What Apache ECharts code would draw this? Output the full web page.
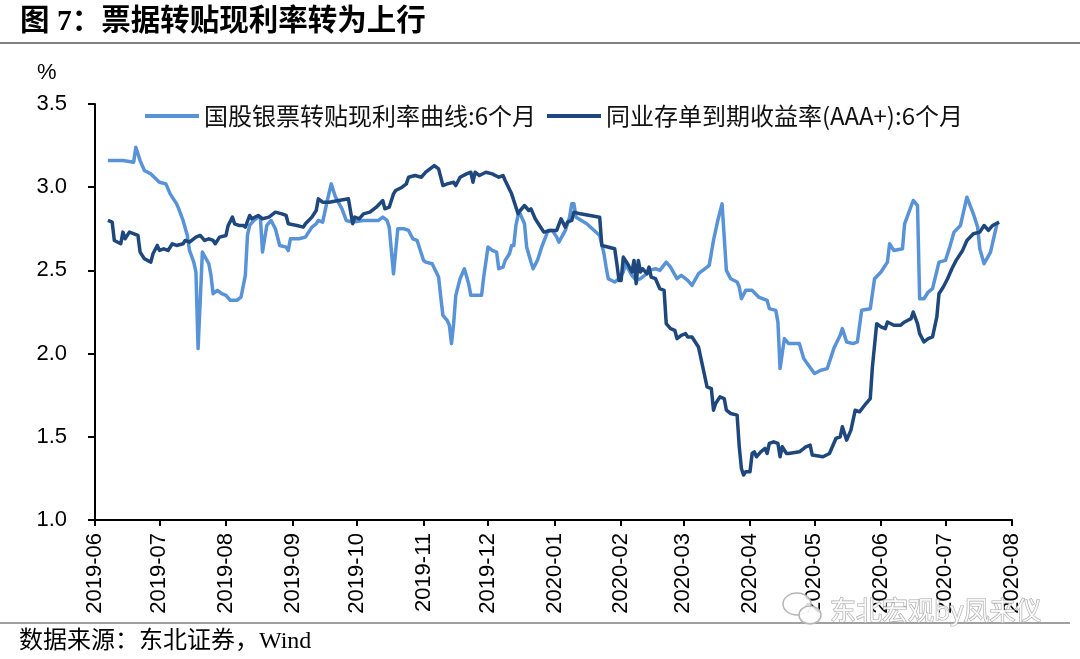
<!DOCTYPE html>
<html>
<head>
<meta charset="utf-8">
<script src="https://cdn.jsdelivr.net/npm/echarts@6/dist/echarts.min.js"></script>
<style>html,body{margin:0;padding:0;background:#fff}#c{width:1080px;height:659px}</style>
</head>
<body>
<div id="c"></div>
<script>
// ---- text ----
const titleText = '图 7：票据转贴现利率转为上行';
const sourceText = '数据来源：东北证券，Wind';
const watermarkText = '东北宏观by凤来仪';
const unitText = '%';
const seriesNames = ['国股银票转贴现利率曲线:6个月', '同业存单到期收益率(AAA+):6个月'];

// ---- axes ----
const xMin = '2019-06-01';
const xMax = '2020-08-01';
const yMin = 1.0;
const yMax = 3.5;
const yStep = 0.5;

// ---- series 1: 国股银票转贴现利率曲线:6个月 ----
const billDates = [
'2019-06-07','2019-06-14','2019-06-19','2019-06-20','2019-06-22','2019-06-24','2019-06-27','2019-07-01','2019-07-04','2019-07-06',
'2019-07-09','2019-07-10','2019-07-12','2019-07-14','2019-07-15','2019-07-17','2019-07-18','2019-07-19','2019-07-21','2019-07-24',
'2019-07-25','2019-07-26','2019-07-28','2019-07-30','2019-08-01','2019-08-03','2019-08-06','2019-08-08','2019-08-10','2019-08-11',
'2019-08-12','2019-08-14','2019-08-16','2019-08-17','2019-08-18','2019-08-20','2019-08-22','2019-08-24','2019-08-26','2019-08-29',
'2019-08-30','2019-08-31','2019-09-04','2019-09-07','2019-09-08','2019-09-10','2019-09-12','2019-09-13','2019-09-15','2019-09-17',
'2019-09-19','2019-09-21','2019-09-24','2019-09-26','2019-09-29','2019-10-04','2019-10-11','2019-10-13','2019-10-15','2019-10-16',
'2019-10-18','2019-10-20','2019-10-23','2019-10-25','2019-10-27','2019-10-29','2019-11-01','2019-11-02','2019-11-05','2019-11-08',
'2019-11-09','2019-11-10','2019-11-12','2019-11-13','2019-11-14','2019-11-15','2019-11-16','2019-11-18','2019-11-20','2019-11-22',
'2019-11-23','2019-11-28','2019-11-29','2019-12-01','2019-12-03','2019-12-05','2019-12-06','2019-12-08','2019-12-09','2019-12-11',
'2019-12-12','2019-12-13','2019-12-14','2019-12-15','2019-12-16','2019-12-18','2019-12-19','2019-12-21','2019-12-22','2019-12-24',
'2019-12-26','2019-12-29','2019-12-31','2020-01-02','2020-01-03','2020-01-06','2020-01-08','2020-01-09','2020-01-10','2020-01-11',
'2020-01-16','2020-01-22','2020-01-24','2020-01-25','2020-01-26','2020-01-29','2020-01-31','2020-02-02','2020-02-03','2020-02-06',
'2020-02-08','2020-02-10','2020-02-13','2020-02-14','2020-02-17','2020-02-19','2020-02-22','2020-02-24','2020-02-27','2020-02-29',
'2020-03-03','2020-03-05','2020-03-08','2020-03-10','2020-03-12','2020-03-13','2020-03-15','2020-03-17','2020-03-19','2020-03-20',
'2020-03-21','2020-03-23','2020-03-26','2020-03-27','2020-03-28','2020-03-30','2020-04-02','2020-04-05','2020-04-09','2020-04-10',
'2020-04-13','2020-04-14','2020-04-15','2020-04-17','2020-04-19','2020-04-24','2020-04-26','2020-05-01','2020-05-04','2020-05-07',
'2020-05-10','2020-05-13','2020-05-14','2020-05-16','2020-05-19','2020-05-21','2020-05-23','2020-05-27','2020-05-29','2020-06-01',
'2020-06-04','2020-06-05','2020-06-07','2020-06-11','2020-06-12','2020-06-16','2020-06-18','2020-06-19','2020-06-21','2020-06-23',
'2020-06-25','2020-06-28','2020-07-01','2020-07-03','2020-07-05','2020-07-08','2020-07-11','2020-07-14','2020-07-16','2020-07-17',
'2020-07-19','2020-07-22','2020-07-25'
];
const billRates = [
3.16,3.16,3.15,3.24,3.16,3.10,3.08,3.03,3.02,2.96,
2.90,2.87,2.80,2.71,2.62,2.55,2.49,2.03,2.61,2.54,
2.47,2.36,2.38,2.36,2.35,2.32,2.32,2.34,2.47,2.71,
2.77,2.80,2.82,2.82,2.61,2.77,2.80,2.75,2.65,2.64,
2.62,2.69,2.69,2.70,2.72,2.76,2.78,2.80,2.79,2.91,
3.02,2.94,2.87,2.80,2.79,2.80,2.80,2.82,2.80,2.76,
2.48,2.75,2.75,2.74,2.69,2.68,2.56,2.55,2.54,2.46,
2.34,2.23,2.20,2.17,2.06,2.18,2.35,2.45,2.51,2.42,
2.35,2.35,2.46,2.64,2.62,2.61,2.51,2.52,2.56,2.60,
2.65,2.65,2.77,2.83,2.84,2.78,2.64,2.55,2.51,2.56,
2.64,2.74,2.74,2.70,2.67,2.74,2.82,2.90,2.90,2.82,
2.78,2.71,2.60,2.52,2.45,2.43,2.45,2.49,2.54,2.47,
2.44,2.45,2.48,2.50,2.51,2.50,2.55,2.52,2.45,2.47,
2.44,2.41,2.48,2.50,2.52,2.53,2.68,2.80,2.90,2.70,
2.50,2.45,2.43,2.40,2.33,2.38,2.38,2.34,2.32,2.27,
2.26,2.19,1.91,2.09,2.06,2.06,1.97,1.88,1.90,1.91,
2.03,2.11,2.15,2.07,2.06,2.07,2.26,2.27,2.45,2.49,
2.55,2.66,2.62,2.63,2.78,2.92,2.89,2.33,2.33,2.37,
2.39,2.55,2.56,2.64,2.73,2.77,2.94,2.84,2.76,2.63,
2.54,2.61,2.78
];

// ---- series 2: 同业存单到期收益率(AAA+):6个月 ----
const ncdDates = [
'2019-06-07','2019-06-09','2019-06-10','2019-06-13','2019-06-14','2019-06-15','2019-06-17','2019-06-21','2019-06-22','2019-06-24',
'2019-06-27','2019-06-28','2019-06-30','2019-07-01','2019-07-03','2019-07-05','2019-07-07','2019-07-09','2019-07-12','2019-07-13',
'2019-07-15','2019-07-18','2019-07-20','2019-07-22','2019-07-24','2019-07-26','2019-07-27','2019-07-29','2019-08-01','2019-08-02',
'2019-08-04','2019-08-05','2019-08-07','2019-08-09','2019-08-10','2019-08-12','2019-08-13','2019-08-16','2019-08-18','2019-08-21',
'2019-08-24','2019-08-27','2019-08-29','2019-08-30','2019-09-03','2019-09-06','2019-09-07','2019-09-10','2019-09-12','2019-09-13',
'2019-09-15','2019-09-18','2019-09-27','2019-09-29','2019-09-30','2019-10-02','2019-10-04','2019-10-07','2019-10-10','2019-10-13',
'2019-10-14','2019-10-16','2019-10-18','2019-10-19','2019-10-22','2019-10-24','2019-10-25','2019-10-28','2019-10-31','2019-11-02',
'2019-11-06','2019-11-08','2019-11-10','2019-11-12','2019-11-15','2019-11-16','2019-11-18','2019-11-21','2019-11-23','2019-11-24',
'2019-11-25','2019-11-27','2019-11-30','2019-12-03','2019-12-06','2019-12-08','2019-12-09','2019-12-12','2019-12-15','2019-12-16',
'2019-12-18','2019-12-20','2019-12-21','2019-12-23','2019-12-25','2019-12-27','2019-12-30','2020-01-02','2020-01-04','2020-01-06',
'2020-01-07','2020-01-09','2020-01-10','2020-01-13','2020-01-22','2020-01-23','2020-01-29','2020-01-30','2020-01-31','2020-02-01',
'2020-02-02','2020-02-04','2020-02-06','2020-02-07','2020-02-08','2020-02-09','2020-02-10','2020-02-11','2020-02-13','2020-02-14',
'2020-02-15','2020-02-17','2020-02-19','2020-02-21','2020-02-22','2020-02-24','2020-02-26','2020-02-27','2020-02-29','2020-03-02',
'2020-03-03','2020-03-05','2020-03-08','2020-03-10','2020-03-12','2020-03-14','2020-03-15','2020-03-16','2020-03-18','2020-03-20',
'2020-03-21','2020-03-23','2020-03-26','2020-03-27','2020-03-28','2020-03-29','2020-03-30','2020-04-01','2020-04-02','2020-04-03',
'2020-04-04','2020-04-06','2020-04-08','2020-04-09','2020-04-10','2020-04-12','2020-04-14','2020-04-15','2020-04-16','2020-04-18',
'2020-04-19','2020-04-24','2020-04-27','2020-04-29','2020-04-30','2020-05-05','2020-05-08','2020-05-11','2020-05-13','2020-05-14',
'2020-05-16','2020-05-18','2020-05-20','2020-05-22','2020-05-25','2020-05-27','2020-05-28','2020-05-30','2020-06-01','2020-06-03',
'2020-06-04','2020-06-07','2020-06-10','2020-06-12','2020-06-15','2020-06-16','2020-06-18','2020-06-19','2020-06-21','2020-06-23',
'2020-06-25','2020-06-26','2020-06-27','2020-06-28','2020-06-30','2020-07-02','2020-07-04','2020-07-06','2020-07-09','2020-07-11',
'2020-07-14','2020-07-17','2020-07-19','2020-07-21','2020-07-23','2020-07-26'
];
const ncdRates = [
2.80,2.79,2.68,2.66,2.73,2.69,2.73,2.71,2.61,2.57,
2.55,2.60,2.65,2.62,2.63,2.62,2.66,2.65,2.66,2.68,
2.67,2.70,2.71,2.68,2.69,2.68,2.66,2.70,2.71,2.77,
2.82,2.78,2.77,2.77,2.76,2.83,2.81,2.83,2.81,2.82,
2.85,2.84,2.83,2.78,2.77,2.76,2.78,2.82,2.86,2.93,
2.91,2.91,2.93,2.78,2.82,2.81,2.84,2.85,2.88,2.92,
2.87,2.88,2.96,2.98,3.00,3.02,3.06,3.07,3.06,3.09,
3.13,3.11,3.01,3.02,3.03,3.01,3.06,3.08,3.09,3.03,
3.09,3.07,3.09,3.08,3.06,3.07,3.04,2.96,2.84,2.86,
2.89,2.86,2.87,2.81,2.77,2.73,2.74,2.74,2.81,2.76,
2.79,2.80,2.85,2.84,2.82,2.65,2.63,2.54,2.44,2.44,
2.58,2.54,2.49,2.56,2.42,2.56,2.49,2.51,2.48,2.52,
2.46,2.45,2.39,2.38,2.18,2.15,2.14,2.09,2.11,2.12,
2.10,2.10,2.04,1.92,1.80,1.79,1.66,1.70,1.74,1.73,
1.66,1.64,1.63,1.44,1.31,1.27,1.29,1.29,1.40,1.41,
1.38,1.41,1.43,1.40,1.46,1.47,1.46,1.38,1.44,1.40,
1.40,1.41,1.44,1.45,1.39,1.38,1.40,1.49,1.50,1.56,
1.48,1.54,1.66,1.65,1.70,1.73,1.92,2.18,2.16,2.15,
2.19,2.17,2.17,2.19,2.21,2.25,2.18,2.12,2.07,2.09,
2.10,2.16,2.22,2.36,2.40,2.45,2.51,2.56,2.62,2.68,
2.72,2.73,2.77,2.74,2.77,2.79
];

const lightBlue = '#5893D8';
const darkBlue = '#1E487D';
const axisFont = '"Liberation Sans", Arial, sans-serif';
const cjkFont = '"Noto Sans CJK SC", sans-serif';
const serifMix = '"Liberation Serif", "Noto Sans CJK SC", serif';

function zip(a, b) { return a.map((d, i) => [d, b[i]]); }
function ts(s) { const p = s.split('-').map(Number); return new Date(p[0], p[1] - 1, p[2]).getTime(); }

const chart = echarts.init(document.getElementById('c'), null, { renderer: 'canvas' });

chart.setOption({
  animation: false,
  backgroundColor: '#ffffff',
  grid: { left: 95, right: 68, top: 104, bottom: 139, containLabel: false },
  legend: {
    left: 145, top: 104, padding: 0, itemGap: 11,
    itemWidth: 54, itemHeight: 4, icon: 'rect',
    textStyle: { fontFamily: cjkFont, fontSize: 24, color: '#111', lineHeight: 24 },
    data: seriesNames
  },
  xAxis: {
    type: 'time',
    min: ts(xMin), max: ts(xMax),
    splitNumber: 14,
    axisLine: { lineStyle: { color: '#000', width: 2 } },
    axisTick: { show: true, length: 6, lineStyle: { color: '#000', width: 2 } },
    splitLine: { show: false },
    axisLabel: {
      formatter: '{yyyy}-{MM}', rotate: 90, margin: 13,
      fontFamily: axisFont, fontSize: 22, color: '#000',
      hideOverlap: false, showMinLabel: true, showMaxLabel: true
    }
  },
  yAxis: {
    type: 'value', min: yMin, max: yMax, interval: yStep,
    axisLine: { show: true, lineStyle: { color: '#000', width: 2 } },
    axisTick: { show: true, length: 7, lineStyle: { color: '#000', width: 2 } },
    splitLine: { show: false },
    axisLabel: {
      formatter: v => v.toFixed(1), margin: 28,
      fontFamily: axisFont, fontSize: 22, color: '#000'
    }
  },
  series: [
    {
      name: seriesNames[0], type: 'line', showSymbol: false, symbol: 'none',
      data: zip(billDates, billRates),
      lineStyle: { color: lightBlue, width: 3.5, join: 'round' },
      itemStyle: { color: lightBlue }, z: 2
    },
    {
      name: seriesNames[1], type: 'line', showSymbol: false, symbol: 'none',
      data: zip(ncdDates, ncdRates),
      lineStyle: { color: darkBlue, width: 3.5, join: 'round' },
      itemStyle: { color: darkBlue }, z: 3
    }
  ],
  graphic: [
    { type: 'text', x: 20, y: 22, style: { text: titleText, fill: '#000', font: 'bold 29.5px ' + serifMix, verticalAlign: 'middle', textVerticalAlign: 'middle' } },
    { type: 'line', shape: { x1: 0, y1: 43, x2: 1080, y2: 43 }, style: { stroke: '#808080', lineWidth: 2 } },
    { type: 'text', x: 37, y: 73, style: { text: unitText, fill: '#000', font: '22px ' + axisFont, verticalAlign: 'middle', textVerticalAlign: 'middle' } },
    { type: 'line', shape: { x1: 0, y1: 623, x2: 1070, y2: 623 }, style: { stroke: '#808080', lineWidth: 1.5 } },
    { type: 'text', x: 19, y: 642, style: { text: sourceText, fill: '#000', font: '24px ' + serifMix, verticalAlign: 'middle', textVerticalAlign: 'middle' } },
    { type: 'ellipse', shape: { cx: 797, cy: 604, rx: 14, ry: 11 }, style: { fill: 'rgba(255,255,255,0.85)', stroke: '#b5b5b5', lineWidth: 1.5 }, z: 100 },
    { type: 'ellipse', shape: { cx: 810, cy: 615, rx: 11, ry: 9 }, style: { fill: 'rgba(255,255,255,0.85)', stroke: '#b5b5b5', lineWidth: 1.5 }, z: 101 },
    { type: 'text', x: 830, y: 610, style: { text: watermarkText, fill: 'rgba(255,255,255,0.85)', stroke: '#a8a8a8', lineWidth: 1.2, font: '26px ' + cjkFont, verticalAlign: 'middle', textVerticalAlign: 'middle' }, z: 102 }
  ]
});
</script>
</body>
</html>
